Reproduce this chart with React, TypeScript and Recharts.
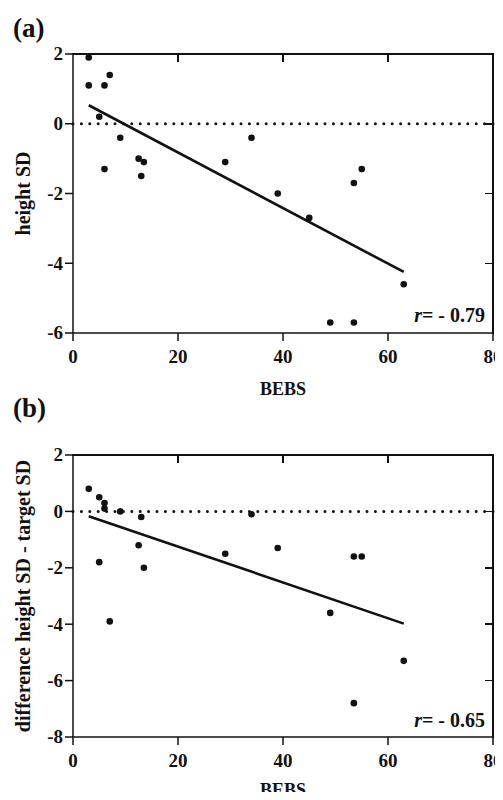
import { ScatterChart, Scatter, XAxis, YAxis, ReferenceLine } from 'recharts';

// panel (a): BEBS vs height SD
const bebsA = [3, 3, 5, 6, 6, 7, 9, 12.5, 13, 13.5, 29, 34, 39, 45, 49, 53.5, 53.5, 55, 63];
const heightSd = [1.9, 1.1, 0.2, 1.1, -1.3, 1.4, -0.4, -1.0, -1.5, -1.1, -1.1, -0.4, -2.0, -2.7, -5.7, -1.7, -5.7, -1.3, -4.6];
const fitA = [
  { x: 3, y: 0.53 },
  { x: 63, y: -4.25 },
];

// panel (b): BEBS vs difference height SD - target SD
const bebsB = [3, 5, 5, 6, 6, 7, 9, 12.5, 13, 13.5, 29, 34, 39, 49, 53.5, 53.5, 55, 63];
const diffSd = [0.8, 0.5, -1.8, 0.3, 0.1, -3.9, 0, -1.2, -0.2, -2.0, -1.5, -0.1, -1.3, -3.6, -1.6, -6.8, -1.6, -5.3];
const fitB = [
  { x: 3, y: -0.17 },
  { x: 63, y: -3.98 },
];

const xTicks = [0, 20, 40, 60, 80];
const yTicksA = [-6, -4, -2, 0, 2];
const yTicksB = [-8, -6, -4, -2, 0, 2];

const FONT = '"Liberation Serif", "Times New Roman", serif';
const INK = '#111';
const TICK = 8;
const W = 503;
const Y_AXIS_W = 73;
const RIGHT = 10;

const lineStyle = { stroke: INK, strokeWidth: 1.5 };

const dot = (p: any) => <circle cx={p.cx} cy={p.cy} r={3.3} fill={INK} />;

const XTick = (p: any) => (
  <text x={p.x} y={p.y} dy="0.68em" textAnchor="middle" fontFamily={FONT} fontWeight="bold" fontSize={19} fill={INK}>
    {p.payload.value}
  </text>
);

const YTick = (p: any) => (
  <text x={p.x} y={p.y} dy="0.34em" textAnchor="end" fontFamily={FONT} fontWeight="bold" fontSize={19} fill={INK}>
    {p.payload.value}
  </text>
);

type PanelProps = {
  tag: string;
  tagY: number;
  xs: number[];
  ys: number[];
  fit: { x: number; y: number }[];
  yTicks: number[];
  yLabel: string;
  r: string;
  height: number;
  top: number;
  xAxisHeight: number;
  rY: number;
  bebsY: number;
};

function Panel(props: PanelProps) {
  const { tag, tagY, xs, ys, fit, yTicks, yLabel, r, height, top, xAxisHeight, rY, bebsY } = props;
  const data = xs.map((x, i) => ({ x, y: ys[i] }));
  const yMin = yTicks[0];
  const yMax = yTicks[yTicks.length - 1];
  const xMin = xTicks[0];
  const xMax = xTicks[xTicks.length - 1];

  // plot box, same as the chart's own layout (margin + axis sizes)
  const left = Y_AXIS_W;
  const right = W - RIGHT;
  const bottom = height - xAxisHeight;
  const midY = (top + bottom) / 2;
  const px = (v: number) => left + ((v - xMin) / (xMax - xMin)) * (right - left);
  const py = (v: number) => bottom - ((v - yMin) / (yMax - yMin)) * (bottom - top);
  const bar = (l: number, t: number, w: number, h: number, key: string) => (
    <div key={key} style={{ position: 'absolute', left: l, top: t, width: w, height: h, background: INK }} />
  );

  return (
    <div style={{ position: 'relative', width: W, height }}>
      <ScatterChart width={W} height={height} margin={{ top, right: RIGHT, bottom: 0, left: 0 }}>
        <XAxis
          dataKey="x"
          type="number"
          domain={[xMin, xMax]}
          ticks={xTicks}
          interval={0}
          height={xAxisHeight}
          tickSize={TICK}
          tickMargin={9}
          axisLine={lineStyle}
          tickLine={lineStyle}
          tick={XTick}
          label={{
            content: () => (
              <text x={283} y={bebsY} textAnchor="middle" fontFamily={FONT} fontWeight="bold" fontSize={18} fill={INK}>
                BEBS
              </text>
            ),
          }}
        />
        <YAxis
          dataKey="y"
          type="number"
          domain={[yMin, yMax]}
          ticks={yTicks}
          interval={0}
          width={Y_AXIS_W}
          tickSize={TICK}
          tickMargin={2}
          axisLine={lineStyle}
          tickLine={lineStyle}
          tick={YTick}
          label={{
            content: () => (
              <text
                transform={`translate(30, ${midY}) rotate(-90)`}
                textAnchor="middle"
                fontFamily={FONT}
                fontWeight="bold"
                fontSize={20}
                fill={INK}
              >
                {yLabel}
              </text>
            ),
          }}
        />
        <ReferenceLine y={0} stroke={INK} strokeWidth={3} strokeDasharray="0 8.4" strokeLinecap="round" />
        <ReferenceLine segment={fit} stroke={INK} strokeWidth={2.6} />
        <Scatter data={data} shape={dot} isAnimationActive={false} />
        <text x={13} y={tagY} fontFamily={FONT} fontWeight="bold" fontSize={27} fill={INK}>
          {tag}
        </text>
        <text x={485} y={rY} textAnchor="end" fontFamily={FONT} fontWeight="bold" fontSize={20} fill={INK}>
          <tspan fontStyle="italic">r</tspan>= - {r}
        </text>
      </ScatterChart>
      {/* box: top and right edges with inward ticks */}
      <div style={{ position: 'absolute', left: 0, top: 0, width: W, height, pointerEvents: 'none' }}>
        {bar(left - 0.75, top - 0.75, right - left + 1.5, 1.5, 'top')}
        {bar(right - 0.75, top - 0.75, 1.5, bottom - top + 1.5, 'right')}
        {xTicks.slice(1, -1).map((t) => bar(px(t) - 0.75, top, 1.5, TICK, `tx${t}`))}
        {yTicks.slice(1, -1).map((t) => bar(right - TICK, py(t) - 0.75, TICK, 1.5, `ty${t}`))}
      </div>
    </div>
  );
}

export default function App() {
  return (
    <div style={{ position: 'relative', width: W, height: 800, margin: -8, background: '#fff' }}>
      <div style={{ position: 'absolute', left: 0, top: 0 }}>
        <Panel
          tag="(a)"
          tagY={37}
          xs={bebsA}
          ys={heightSd}
          fit={fitA}
          yTicks={yTicksA}
          yLabel="height SD"
          r="0.79"
          height={400}
          top={54}
          xAxisHeight={67}
          rY={321.5}
          bebsY={395}
        />
      </div>
      <div style={{ position: 'absolute', left: 0, top: 380 }}>
        <Panel
          tag="(b)"
          tagY={37}
          xs={bebsB}
          ys={diffSd}
          fit={fitB}
          yTicks={yTicksB}
          yLabel="difference height SD - target SD"
          r="0.65"
          height={420}
          top={75}
          xAxisHeight={63}
          rY={346.5}
          bebsY={416}
        />
      </div>
    </div>
  );
}
